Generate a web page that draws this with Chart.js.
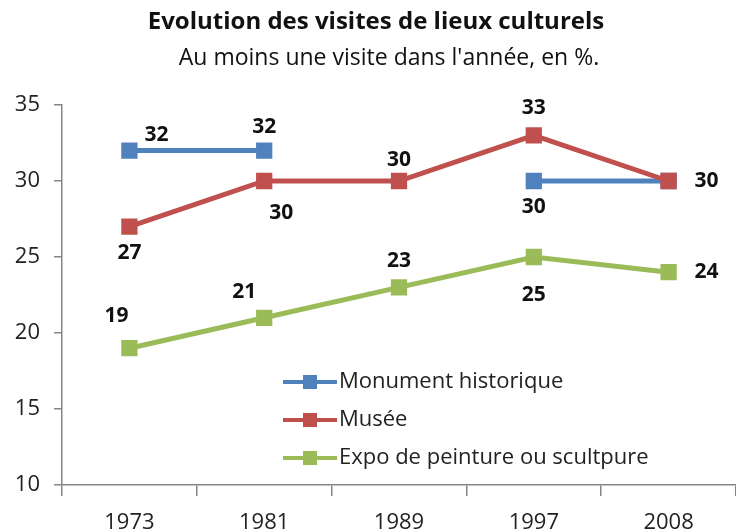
<!DOCTYPE html>
<html>
<head>
<meta charset="utf-8">
<script src="https://cdn.jsdelivr.net/npm/chart.js@4/dist/chart.umd.min.js"></script>
<style>
  html, body { margin: 0; padding: 0; background: #fff; }
  #wrap { width: 736px; height: 531px; }
</style>
</head>
<body>
<div id="wrap"><canvas id="chart"></canvas></div>
<script>
"use strict";

// Data
const years = ["1973", "1981", "1989", "1997", "2008"];
const monument = [32, 32, null, 30, 30];
const musee = [27, 30, 30, 33, 30];
const expo = [19, 21, 23, 25, 24];
const seriesNames = ["Monument historique", "Musée", "Expo de peinture ou scultpure"];
const yTicks = [10, 15, 20, 25, 30, 35];
const titleText = "Evolution des visites de lieux culturels";
const subtitleText = "Au moins une visite dans l'année, en %.";

// Where each value label sits relative to its point [dx, dy], null = no label
const labelOffsets = [
    [[27, -16], [0, -24], null, [0, 26], null],
    [[0, 26], [17, 32], [0, -21], [0, -27], [38, 0]],
    [[-13, -32], [-20, -26], [0, -26], [0, 38], [38, 0]]
];

const colors = ["#4f81bd", "#c0504d", "#9bbb59"];
const FONT = "'Open Sans', 'DejaVu Sans', sans-serif";

// Title + subtitle, drawn by hand so they sit where the original has them
const headings = {
    id: "headings",
    afterDraw(chart) {
        const ctx = chart.ctx;
        ctx.save();
        ctx.fillStyle = "#111";
        ctx.textAlign = "center";
        ctx.textBaseline = "middle";
        ctx.font = "bold 24px " + FONT;
        ctx.fillText(titleText, 376, 22);
        ctx.font = "23px " + FONT;
        ctx.fillText(subtitleText, 389, 58);
        ctx.restore();
    }
};

// Value labels next to the points
const valueLabels = {
    id: "valueLabels",
    afterDatasetsDraw(chart) {
        const ctx = chart.ctx;
        ctx.save();
        ctx.font = "bold 21px " + FONT;
        ctx.fillStyle = "#111";
        ctx.textAlign = "center";
        ctx.textBaseline = "middle";
        chart.data.datasets.forEach((ds, i) => {
            chart.getDatasetMeta(i).data.forEach((pt, j) => {
                const off = labelOffsets[i][j];
                if (ds.data[j] === null || !off) return;
                ctx.fillText(ds.data[j], pt.x + off[0], pt.y + off[1]);
            });
        });
        ctx.restore();
    }
};

// Legend drawn inside the plot, line + square marker like the original
const insideLegend = {
    id: "insideLegend",
    afterDraw(chart) {
        const ctx = chart.ctx;
        const x0 = 283, x1 = 337, top = 382, gap = 38;
        ctx.save();
        ctx.font = "22px " + FONT;
        ctx.textBaseline = "middle";
        chart.data.datasets.forEach((ds, i) => {
            const y = top + i * gap;
            ctx.strokeStyle = ds.borderColor;
            ctx.lineWidth = 4;
            ctx.beginPath();
            ctx.moveTo(x0, y);
            ctx.lineTo(x1, y);
            ctx.stroke();
            ctx.fillStyle = ds.borderColor;
            ctx.fillRect((x0 + x1) / 2 - 7, y - 7, 14, 14);
            ctx.fillStyle = "#222";
            ctx.fillText(ds.label, x1 + 2, y);
        });
        ctx.restore();
    }
};

function makeSet(label, data, color, order) {
    return {
        label: label,
        data: data,
        order: order,
        borderColor: color,
        backgroundColor: color,
        borderWidth: 5,
        pointStyle: "rect",
        pointRadius: 11.5,
        pointHoverRadius: 11.5,
        pointBorderWidth: 0,
        tension: 0,
        spanGaps: false
    };
}

new Chart(document.getElementById("chart"), {
    type: "line",
    data: {
        labels: years,
        datasets: [
            makeSet(seriesNames[0], monument, colors[0], 1),
            makeSet(seriesNames[1], musee, colors[1], 0),
            makeSet(seriesNames[2], expo, colors[2], 2)
        ]
    },
    options: {
        responsive: true,
        maintainAspectRatio: false,
        animation: false,
        events: [],
        layout: { autoPadding: false, padding: { top: 105, right: 0, bottom: 0, left: 0 } },
        plugins: {
            legend: { display: false },
            tooltip: { enabled: false },
            title: { display: false },
            subtitle: { display: false }
        },
        scales: {
            x: {
                offset: true,
                afterFit: s => { s.height = 46; },
                border: { display: true, color: "#868686", width: 1.5 },
                grid: { offset: true, drawOnChartArea: false, drawTicks: true, tickLength: 11, color: "#868686", lineWidth: 1.5 },
                ticks: { color: "#222", padding: 16, font: { family: FONT, size: 22, lineHeight: 1 }, maxRotation: 0 }
            },
            y: {
                min: 10,
                max: 35,
                afterFit: s => { s.width = 62; },
                afterBuildTicks: s => { s.ticks = yTicks.map(v => ({ value: v })); },
                border: { display: true, color: "#868686", width: 1.5 },
                grid: { drawOnChartArea: false, drawTicks: true, tickLength: 8, color: "#868686", lineWidth: 1.5 },
                ticks: { color: "#222", padding: 14, font: { family: FONT, size: 22 } }
            }
        }
    },
    plugins: [headings, valueLabels, insideLegend]
});
</script>
</body>
</html>
